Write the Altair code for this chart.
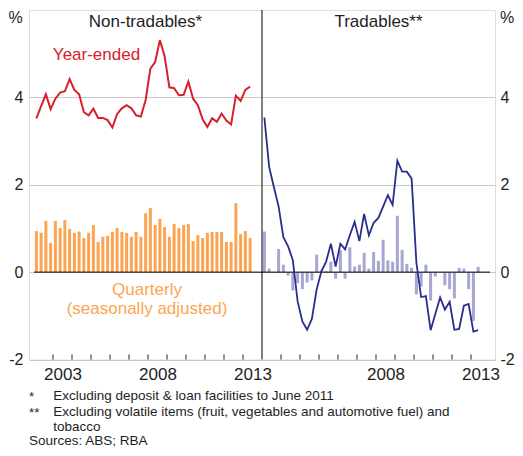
import altair as alt
import pandas as pd

# ---------------- data ----------------
quarter_labels = [f"{y}Q{q}" for y in range(2002, 2014) for q in range(1, 5)][:46]

nt_quarterly = [0.94, 0.90, 1.17, 0.67, 1.17, 1.01, 1.19, 0.99, 0.90, 0.93,
                0.78, 0.90, 1.08, 0.69, 0.81, 0.83, 0.92, 1.01, 0.92, 0.90,
                0.81, 0.92, 0.81, 1.35, 1.47, 1.08, 1.22, 1.03, 0.81, 1.10,
                1.01, 1.08, 1.10, 0.71, 0.85, 0.78, 0.90, 0.92, 0.92, 0.92,
                0.69, 0.69, 1.58, 0.87, 0.94, 0.78]
nt_year_ended = [3.52, 3.80, 4.07, 3.73, 3.97, 4.11, 4.14, 4.42, 4.17, 4.07,
                 3.66, 3.59, 3.74, 3.53, 3.53, 3.48, 3.31, 3.62, 3.75, 3.82,
                 3.75, 3.59, 3.56, 3.94, 4.66, 4.81, 5.31, 4.94, 4.23, 4.21,
                 4.05, 4.06, 4.36, 3.97, 3.82, 3.50, 3.32, 3.52, 3.44, 3.63,
                 3.47, 3.38, 4.04, 3.92, 4.17, 4.25]
tr_quarterly = [0.93, 0.08, -0.02, 0.53, 0.17, -0.08, -0.42, -0.25, -0.39, -0.24,
                -0.19, 0.40, 0.04, 0.02, 0.24, -0.15, 0.50, -0.15, 0.57, 0.13,
                0.17, 0.44, 0.08, 0.46, 0.26, 0.74, 0.27, 0.24, 1.29, 0.51,
                0.19, 0.10, -0.51, -0.33, 0.17, -0.65, -0.10, 0.00, -0.30, -0.39,
                -0.60, 0.10, 0.08, -0.39, -1.12, 0.12]
tr_year_ended = [3.54, 2.41, 1.95, 1.50, 0.80, 0.59, 0.27, -0.67, -1.13, -1.32,
                 -1.07, -0.40, 0.02, 0.24, 0.65, 0.13, 0.65, 0.52, 0.85, 1.15,
                 0.71, 1.33, 0.84, 1.13, 1.24, 1.50, 1.76, 1.54, 2.55, 2.30,
                 2.30, 2.14, 0.22, -0.57, -0.55, -1.33, -0.95, -0.58, -0.86, -0.68,
                 -1.32, -1.30, -0.77, -0.73, -1.36, -1.33]

label_years_left = [2003, 2008, 2013]
label_years_right = [2008, 2013]
tick_years = list(range(2003, 2014))
y_ticks = [-2, 0, 2, 4]

BASE = 2002
PANEL = 12  # years per panel

ORANGE = "#FBA552"
RED = "#D8202C"
NAVY = "#282E8E"
LAV = "#A6A6D3"
TXT = "#1e1e1e"
FONT = "Liberation Sans"

W, H = 466, 349.5
PW = W / 2  # width of one panel


def qpos(lbl):
    y, q = int(lbl[:4]), int(lbl[-1])
    return y - BASE + (q - 0.5) / 4


left = pd.DataFrame({"pos": [qpos(l) for l in quarter_labels],
                     "quarterly": nt_quarterly, "year_ended": nt_year_ended})
right = pd.DataFrame({"pos": [qpos(l) + PANEL for l in quarter_labels],
                      "quarterly": tr_quarterly, "year_ended": tr_year_ended})
ticks = pd.DataFrame({"pos": [y - BASE for y in tick_years] +
                      [y - BASE + PANEL for y in tick_years]})
label_pos = [y - BASE + 0.5 for y in label_years_left] + \
            [y - BASE + PANEL + 0.5 for y in label_years_right]

xscale = alt.Scale(domain=[0, 2 * PANEL], nice=False, zero=False)
yscale = alt.Scale(domain=[-2, 6], nice=False)

xaxis = alt.Axis(values=label_pos, title=None, ticks=False, domain=False, grid=False,
                 labelExpr=f"datum.value < {PANEL} ? format(floor(datum.value) + {BASE}, 'd') : "
                           f"format(floor(datum.value) + {BASE - PANEL}, 'd')",
                 labelFontSize=17, labelPadding=7, labelColor=TXT, labelFont=FONT,
                 labelFlush=False, labelOverlap=False)
yaxis_left = alt.Axis(orient="left", values=y_ticks, title=None, ticks=False, domain=False,
                      grid=True, gridColor="#c8c8c8", gridWidth=1,
                      labelExpr="toString(datum.value)",
                      labelFontSize=16, labelPadding=6, labelColor=TXT, labelFont=FONT)
yaxis_right = alt.Axis(orient="right", values=y_ticks, title=None, ticks=False, domain=False,
                       grid=False, labelExpr="toString(datum.value)",
                       labelFontSize=16, labelPadding=5, labelColor=TXT,
                       labelFont=FONT)

X = alt.X("pos:Q", scale=xscale, axis=xaxis)

bars_left = alt.Chart(left).mark_bar(size=3, color=ORANGE).encode(
    x=X, y=alt.Y("quarterly:Q", scale=yscale, axis=yaxis_left))
bars_right = alt.Chart(right).mark_bar(size=3, color=LAV).encode(
    x=X, y=alt.Y("quarterly:Q", scale=yscale, axis=None))

zero = alt.Chart(pd.DataFrame({"pos": [0], "end": [2 * PANEL], "z": [0]})).mark_rule(
    color="black", strokeWidth=1).encode(
    x=X, x2="end:Q", y=alt.Y("z:Q", scale=yscale, axis=yaxis_right))

divider = alt.Chart(pd.DataFrame({"pos": [PANEL]})).mark_rule(
    color="black", strokeWidth=1).encode(x=X, y=alt.value(0), y2=alt.value(H))

xticks = alt.Chart(ticks).mark_rule(color=TXT, strokeWidth=1).encode(
    x=X, y=alt.value(H - 5), y2=alt.value(H))

line_left = alt.Chart(left).mark_line(color=RED, strokeWidth=2).encode(
    x=X, y=alt.Y("year_ended:Q", scale=yscale, axis=None))
line_right = alt.Chart(right).mark_line(color=NAVY, strokeWidth=1.8).encode(
    x=X, y=alt.Y("year_ended:Q", scale=yscale, axis=None))


def label(text, x, y, color=TXT, size=17, align="center"):
    return alt.Chart(pd.DataFrame({"t": [text]})).mark_text(
        font=FONT, fontSize=size, color=color, align=align, baseline="middle").encode(
        x=alt.value(x), y=alt.value(y), text="t:N")


FN = 13.5
texts = [
    label("Non-tradables*", PW / 2, 12),
    label("Tradables**", PW * 1.5, 12),
    label("Year-ended", 67.5, 45, RED),
    label("Quarterly", 118, 280, ORANGE),
    label("(seasonally adjusted)", 118, 298.5, ORANGE),
    label("%", -20.5, 8, size=16, align="left"),
    label("%", W + 5, 8, size=16, align="left"),
    label("*", 0, 387, size=FN, align="left"),
    label("Excluding deposit & loan facilities to June 2011", 24.3, 386, size=FN, align="left"),
    label("**", 0, 403, size=FN, align="left"),
    label("Excluding volatile items (fruit, vegetables and automotive fuel) and",
          24.3, 402, size=FN, align="left"),
    label("tobacco", 24.3, 417, size=FN, align="left"),
    label("Sources: ABS; RBA", 0, 431, size=FN, align="left"),
]

chart = alt.layer(bars_left, bars_right, zero, divider, xticks, line_left, line_right,
                  *texts).resolve_axis(y="independent").properties(
    width=W, height=H,
    autosize=alt.AutoSizeParams(type="none"),
    padding={"left": 21, "top": 2, "right": 20, "bottom": 88.5},
).configure_view(stroke="black", strokeWidth=1).configure(font=FONT)

chart.save("out.html", embed_options={"renderer": "svg", "actions": False})
